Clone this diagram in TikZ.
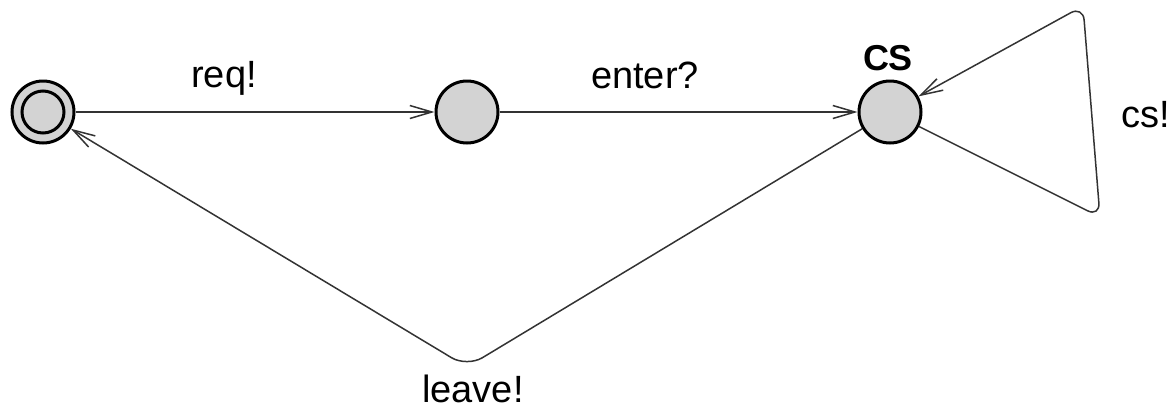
\documentclass[tikz,border=0pt]{standalone}
\usepackage{fontspec}
\setmainfont{Liberation Sans}
\usepackage{tikz}
\usetikzlibrary{positioning, arrows.meta, calc}
\definecolor{locgray}{HTML}{D3D3D3}
\definecolor{linegray}{HTML}{333333}

\begin{document}
\begin{tikzpicture}[x=0.5pt, y=-0.5pt, font=\fontsize{19}{22}\selectfont,
    location/.style={circle, draw, line width=1.5pt, fill=locgray, minimum size=31pt, inner sep=0pt},
    edge/.style={draw=linegray, line width=0.75pt, -{Straight Barb[length=11pt, width=6.5pt]}},
    lbl/.style={inner sep=0pt}]
    % Rahmen auf Bildgroesse festlegen
    \useasboundingbox (0,0) rectangle (1173,408);

    % --- ZUSTAENDE ---
    \node[location] (init) at (43,112) {};
    \draw[line width=1.5pt] (init.center) circle[radius=10.5pt];
    \node[location] (wait) at (467,112) {};
    \node[location] (cs) at (890,112) {};
    \node[lbl, font=\fontsize{18}{22}\selectfont\bfseries] (csname) at (888,58) {CS};

    % --- UEBERGAENGE ---
    \draw[edge] (init) -- (wait);
    \node[lbl] (req) at (224,78) {req!};

    \draw[edge] (wait) -- (cs);
    \node[lbl] (enter) at (645,75) {enter?};

    % Schleife am kritischen Abschnitt
    \coordinate (loopbot) at (1100,217);
    \coordinate (looptop) at (1083,6);
    \draw[edge, rounded corners=7pt] (cs) -- (loopbot) -- (looptop) -- (cs);
    \node[lbl] (csout) at (1146,115) {cs!};

    % zurueck zum Start
    \coordinate (bend) at (467,367);
    \draw[edge, rounded corners=9pt] (cs) -- (bend) -- (init);
    \node[lbl] (leave) at (473,389) {leave!};

\end{tikzpicture}
\end{document}
